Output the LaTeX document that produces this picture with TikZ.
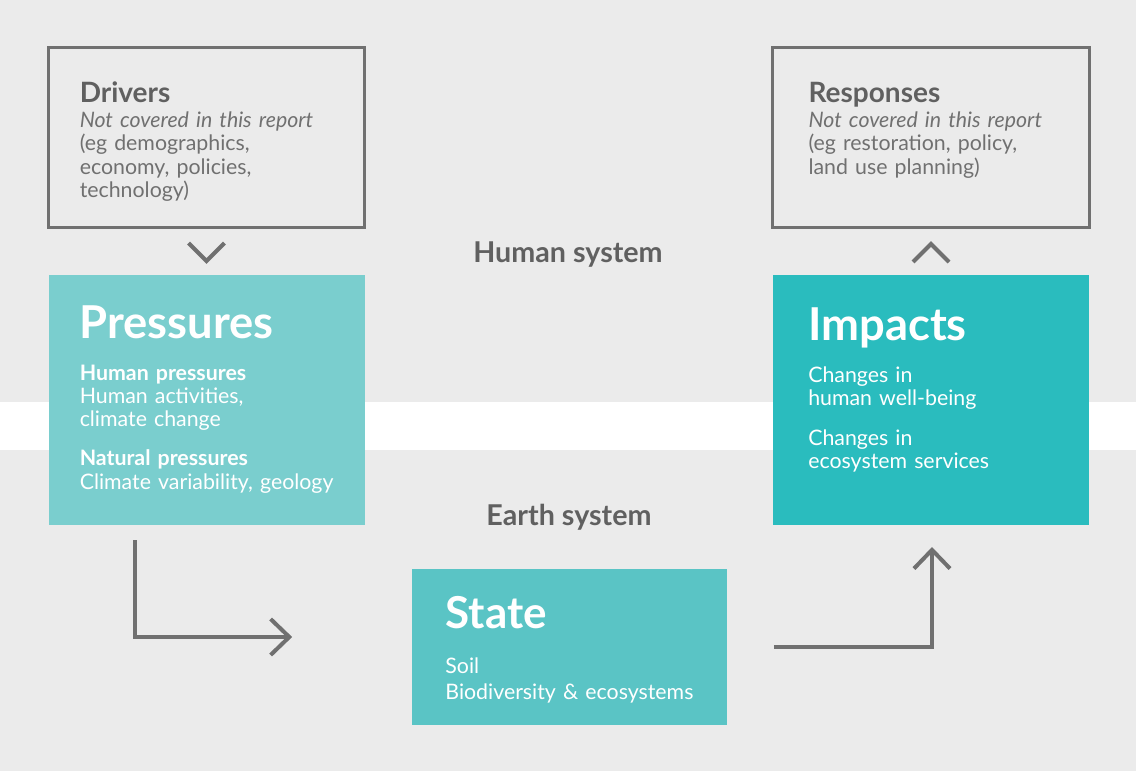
\documentclass[tikz,border=0pt]{standalone}
\usepackage{fontspec}
\setmainfont{Lato}
\usepackage{tikz}
\usetikzlibrary{arrows.meta,positioning,calc}
\usepackage{xcolor}
\definecolor{bggray}{RGB}{235,235,235}
\definecolor{linegray}{RGB}{112,112,112}
\definecolor{headgray}{RGB}{96,96,96}
\definecolor{txtgray}{RGB}{112,112,112}
\definecolor{pressteal}{RGB}{122,206,206}
\definecolor{stateteal}{RGB}{90,196,197}
\definecolor{impteal}{RGB}{42,188,190}
\newcommand{\boxtitle}[1]{{\fontsize{34}{40}\selectfont\bfseries #1}}
\newcommand{\boxhead}[1]{{\fontsize{21}{24}\selectfont\bfseries\color{headgray}#1}}
\tikzstyle{outbox} = [rectangle, draw=linegray, line width=2.25pt, inner sep=0pt, outer sep=0pt, minimum width=237pt, minimum height=135pt]
\tikzstyle{tealbox} = [rectangle, inner sep=0pt, outer sep=0pt, minimum width=237pt]
\tikzstyle{boxtext} = [anchor=base west, inner sep=0pt, text width=220pt, align=left, font=\fontsize{16}{17.6}\selectfont]
\tikzstyle{titletext} = [anchor=base west, inner sep=0pt, text=white]
\tikzstyle{syslabel} = [anchor=base, inner sep=0pt, font=\fontsize{21.5}{24}\selectfont\bfseries, text=headgray]
\tikzstyle{flow} = [line width=3pt, draw=linegray, -{Straight Barb[length=14pt,width=27pt]}]
\tikzstyle{chevron} = [line width=3pt, draw=linegray]
\begin{document}
\begin{tikzpicture}[x=0.75pt, y=-0.75pt]
% background and white band
\fill[bggray] (0,0) rectangle (1136,771);
\fill[white] (0,402) rectangle (1136,450);

% human system
\node (drivers) [outbox] at (206.5,137) {};
\node (responses) [outbox, minimum width=238pt] at (931,137) {};
\node (driverstext) [boxtext, text=txtgray] at ($(drivers.north west)+(31,55)$) {%
\boxhead{Drivers}\\[1.2pt]
\textit{Not covered in this report}\\
(eg demographics,\\
economy, policies,\\
technology)};
\node (responsestext) [boxtext, text=txtgray] at ($(responses.north west)+(36,55)$) {%
\boxhead{Responses}\\[1.2pt]
\textit{Not covered in this report}\\
(eg restoration, policy,\\
land use planning)};

\node (humansys) [syslabel] at (568,262) {Human system};
\node (earthsys) [syslabel] at (569,525) {Earth system};

% teal boxes
\node (pressures) [tealbox, fill=pressteal, minimum height=187.5pt] at (206.5,400) {};
\node (impacts) [tealbox, fill=impteal, minimum height=187.5pt] at (931,400) {};
\node (state) [tealbox, fill=stateteal, minimum width=236pt, minimum height=117pt] at (569.5,647) {};

\node (pressurestitle) [titletext] at ($(pressures.north west)+(31,63)$) {\boxtitle{Pressures}};
\node (pressurestext) [boxtext, text=white] at ($(pressures.north west)+(31,105)$) {%
\textbf{Human pressures}\\
Human activities,\\
climate change\\[11.6pt]
\textbf{Natural pressures}\\
Climate variability, geology};

\node (impactstitle) [titletext] at ($(impacts.north west)+(35,65)$) {\boxtitle{Impacts}};
\node (impactstext) [boxtext, text=white] at ($(impacts.north west)+(35,107)$) {%
Changes in\\
human well-being\\[12.4pt]
Changes in\\
ecosystem services};

\node (statetitle) [titletext] at ($(state.north west)+(33,59)$) {\fontsize{33}{40}\selectfont\bfseries State};
\node (statetext) [boxtext, text=white] at ($(state.north west)+(33,104)$) {%
Soil\\[1.9pt]
Biodiversity \& ecosystems};

% connectors
\draw[chevron] ($(drivers.south)+(-18,16)$) -- ++(18,18) -- ++(18,-18);
\draw[chevron] ($(impacts.north)+(-18,-13)$) -- ++(18,-18) -- ++(18,18);
\draw[flow] ($(pressures.south)+(-71.5,15)$) |- ($(state.west)+(-120,-10)$);
\draw[flow] ($(state.east)+(47,0)$) -| ($(impacts.south)+(1,22)$);
\end{tikzpicture}
\end{document}
